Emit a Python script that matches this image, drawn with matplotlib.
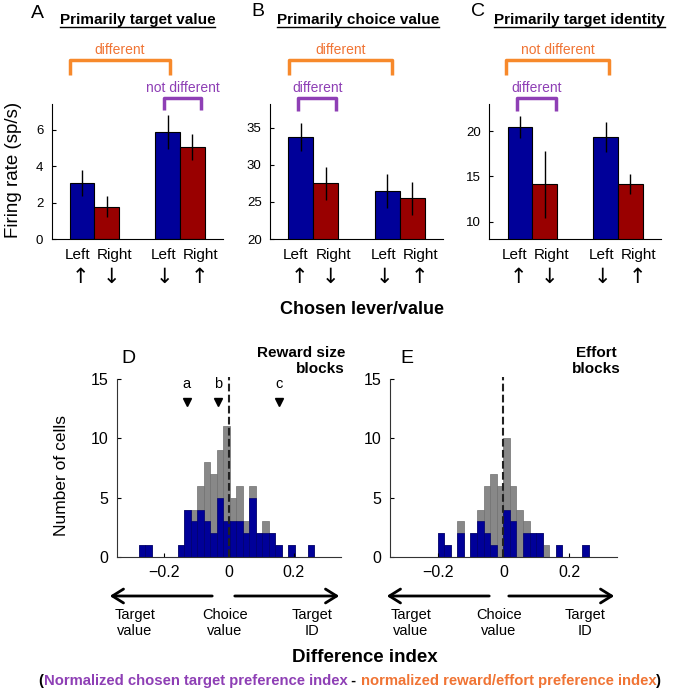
import numpy as np
import matplotlib
matplotlib.use('Agg')
import matplotlib.pyplot as plt
import matplotlib.transforms as mtransforms
from matplotlib.lines import Line2D

plt.rcParams['font.family'] = ['Liberation Sans', 'DejaVu Sans']

W, H = 700, 690

# ---- top panels: firing rates ----
cond_labels = ['Left', 'Right', 'Left', 'Right']
cond_arrows = ['\u2191', '\u2193', '\u2193', '\u2191']
group_pos = [1, 1, 2, 2]
rate_A = [3.07, 1.78, 5.87, 5.05]
sem_A = [0.70, 0.60, 0.95, 0.73]
rate_B = [33.8, 27.5, 26.5, 25.5]
sem_B = [1.9, 2.2, 2.3, 2.2]
rate_C = [20.47, 14.12, 19.34, 14.19]
sem_C = [1.2, 3.7, 1.65, 1.07]
titles = ['Primarily target value', 'Primarily choice value', 'Primarily target identity']
orange_txt = ['different', 'different', 'not different']
purple_txt = ['not different', 'different', 'different']
# bracket spans (data x)
orange_span = [(0.712, 1.888), (0.723, 1.904), (0.694, 1.892)]
purple_span = [(1.815, 2.249), (0.827, 1.262), (0.819, 1.272)]

# ---- histograms: difference index ----
bin_left = np.arange(-0.30, 0.30, 0.02)
all_D = [0, 1, 1, 0, 0, 0, 0, 1, 4, 4, 6, 8, 7, 9, 11, 5, 6, 3, 6, 2, 3, 2, 1, 0, 1, 0, 0, 1, 0, 0]
sig_D = [0, 1, 1, 0, 0, 0, 0, 1, 4, 3, 4, 3, 2, 5, 3, 3, 3, 2, 5, 2, 2, 2, 1, 0, 1, 0, 0, 1, 0, 0]
all_E = [0, 0, 0, 0, 0, 2, 1, 0, 3, 0, 2, 4, 6, 7, 6, 10, 6, 4, 3, 2, 2, 1, 0, 1, 0, 0, 0, 1, 0, 0]
sig_E = [0, 0, 0, 0, 0, 2, 1, 0, 2, 0, 2, 3, 2, 1, 0, 4, 3, 0, 2, 2, 2, 0, 0, 1, 0, 0, 0, 1, 0, 0]
example_names = ['a', 'b', 'c']
example_x = [-0.129, -0.033, 0.154]

blue = '#000099'
red = '#990000'
orange = '#F7892B'
orange_t = '#F07434'
purple = '#8E3FB5'

fig = plt.figure(figsize=(7, 6.9), dpi=100)


def fx(x):
    return x / W


def fy(y):
    return 1 - y / H


def rect(l, t, r, b):
    return [fx(l), fy(b), (r - l) / W, (b - t) / H]


def bracket(ax, span, ytop, ybot, col, lw=2.5):
    tr = mtransforms.blended_transform_factory(ax.transData, ax.transAxes)
    x0, x1 = span
    ax.plot([x0, x0, x1, x1], [ybot, ytop, ytop, ybot], color=col, lw=lw,
            transform=tr, clip_on=False, solid_joinstyle='round', solid_capstyle='butt')


bar_axes = [rect(51.7, 104, 222.7, 239), rect(270, 104, 443.3, 239), rect(489.3, 104, 661, 239)]
rates = [rate_A, rate_B, rate_C]
sems = [sem_A, sem_B, sem_C]
ylims = [(0, 7.4), (20, 38.2), (8.1, 23)]
yticks = [[0, 2, 4, 6], [20, 25, 30, 35], [10, 15, 20]]
offs = [-0.144, 0.144, -0.144, 0.144]
label_offs = [-0.2, 0.23, -0.19, 0.24]
arrow_offs = [-0.165, 0.2, -0.18, 0.23]
colors = [blue, red, blue, red]
title_x = [137.5, 357.8, 579.5]
letter_xy = [(37, 13), (258, 12), (478, 12)]
purple_leg = [0.956, 0.95, 0.95]
title_texts = []

for i in range(3):
    ax = fig.add_axes(bar_axes[i])
    xs = [g + o for g, o in zip(group_pos, offs)]
    ax.bar(xs, rates[i], width=0.288, color=colors, edgecolor='black', lw=0.8, zorder=2)
    ax.errorbar(xs, rates[i], yerr=sems[i], fmt='none', ecolor='black', elinewidth=1, capsize=0, zorder=3)
    ax.set_xlim(0.5, 2.5)
    ax.set_ylim(*ylims[i])
    ax.set_yticks(yticks[i])
    ax.set_xticks([])
    ax.tick_params(axis='y', direction='in', length=3, labelsize=9.5, pad=6)
    for s in ['top', 'right']:
        ax.spines[s].set_visible(False)
    tr = mtransforms.blended_transform_factory(ax.transData, ax.transAxes)
    for g, lo, ao, lab, arr in zip(group_pos, label_offs, arrow_offs, cond_labels, cond_arrows):
        ax.text(g + lo, -0.119, lab, transform=tr, ha='center', va='center', fontsize=11, clip_on=False)
        ax.text(g + ao, -0.281, arr, transform=tr, ha='center', va='center', fontsize=15,
                family=['DejaVu Sans'], clip_on=False)
    # brackets
    bracket(ax, orange_span[i], 1.326, 1.215, orange)
    ax.text(np.mean(orange_span[i]), 1.40, orange_txt[i], transform=tr, ha='center', va='center',
            color=orange_t, fontsize=10)
    bracket(ax, purple_span[i], 1.047, purple_leg[i], purple)
    ax.text(np.mean(purple_span[i]), 1.119, purple_txt[i], transform=tr, ha='center', va='center',
            color=purple, fontsize=10)
    t = fig.text(fx(title_x[i]), fy(20), titles[i], ha='center', va='center', fontsize=11, weight='bold')
    title_texts.append(t)
    fig.text(fx(letter_xy[i][0]), fy(letter_xy[i][1]), 'ABC'[i], ha='center', va='center', fontsize=14)

fig.text(fx(14), fy(170), 'Firing rate (sp/s)', rotation=90, ha='center', va='center', fontsize=13.5)
fig.text(fx(362), fy(310), 'Chosen lever/value', ha='center', va='center', fontsize=13, weight='bold')

# ---- histograms ----
hist_axes = [rect(116.7, 379, 341, 557), rect(390, 379, 616.7, 557)]
alls = [all_D, all_E]
sigs = [sig_D, sig_E]
shift = [0.003, 0.0]
for i in range(2):
    ax = fig.add_axes(hist_axes[i])
    left = bin_left + shift[i]
    ax.bar(left, alls[i], width=0.02, align='edge', color='#888888', edgecolor='#707070', lw=0.5)
    ax.bar(left, sigs[i], width=0.02, align='edge', color=blue, edgecolor='#00006e', lw=0.5)
    ax.plot([0, 0], [0, 15.2], ls='--', color='#222222', lw=1.5, clip_on=False, zorder=5)
    ax.set_xlim(-0.345, 0.345)
    ax.set_ylim(0, 15)
    ax.set_xticks([-0.2, 0, 0.2])
    ax.set_xticklabels(['\u22120.2', '0', '0.2'])
    ax.set_yticks([0, 5, 10, 15])
    ax.tick_params(direction='in', length=3, labelsize=11.5, pad=6)
    for s in ['top', 'right']:
        ax.spines[s].set_visible(False)
    for s in ['left', 'bottom']:
        ax.spines[s].set_color('#333333')
    if i == 0:
        ax.plot(example_x, [13.05] * 3, 'v', color='black', ms=6, clip_on=False)
        for n, x in zip(example_names, example_x):
            ax.text(x, 14.6, n, ha='center', va='center', fontsize=10.5)

fig.text(fx(62), fy(475), 'Number of cells', rotation=90, ha='center', va='center', fontsize=12.5)
fig.text(fx(128.3), fy(358.3), 'D', ha='center', va='center', fontsize=14)
fig.text(fx(406.7), fy(358.3), 'E', ha='center', va='center', fontsize=14)
fig.text(fx(345), fy(361), 'Reward size\nblocks', ha='right', va='center', fontsize=11,
         weight='bold', multialignment='right', linespacing=1.1)
fig.text(fx(596), fy(361), 'Effort\nblocks', ha='center', va='center', fontsize=11,
         weight='bold', multialignment='center', linespacing=1.1)

arrow_spans = [(215, 107), (232, 342), (492, 384), (506, 617)]
for a, b in arrow_spans:
    fig.add_artist(matplotlib.patches.FancyArrowPatch(
        (fx(a), fy(596)), (fx(b), fy(596)), transform=fig.transFigure,
        arrowstyle='->,head_length=8,head_width=5', lw=2, color='black', mutation_scale=1))

under_x = [135, 225, 312, 411, 499, 585]
under_txt = ['Target\nvalue', 'Choice\nvalue', 'Target\nID'] * 2
for x, s in zip(under_x, under_txt):
    fig.text(fx(x), fy(623), s, ha='center', va='center', fontsize=10.5, linespacing=1.15)

fig.text(fx(365), fy(657), 'Difference index', ha='center', va='center', fontsize=13.5, weight='bold')

# multi-coloured bottom line
pieces = [('(', 'black'), ('Normalized chosen target preference index', purple),
          (' - ', 'black'), ('normalized reward/effort preference index', orange_t), (')', 'black')]
fig.canvas.draw()
rend = fig.canvas.get_renderer()
objs = []
widths = []
for s, c in pieces:
    t = fig.text(0, fy(681), s.replace(' ', '\u00a0'), color=c, fontsize=10.7, weight='bold',
                 va='center', ha='left')
    objs.append(t)
    widths.append(t.get_window_extent(rend).width)
x0 = 350 - sum(widths) / 2
for t, w in zip(objs, widths):
    t.set_x(fx(x0))
    x0 += w

# underline titles
for t in title_texts:
    bb = t.get_window_extent(rend)
    fig.add_artist(Line2D([fx(bb.x0), fx(bb.x1)], [fy(27), fy(27)], color='black', lw=1,
                          transform=fig.transFigure))

fig.savefig('out.png', dpi=100)
